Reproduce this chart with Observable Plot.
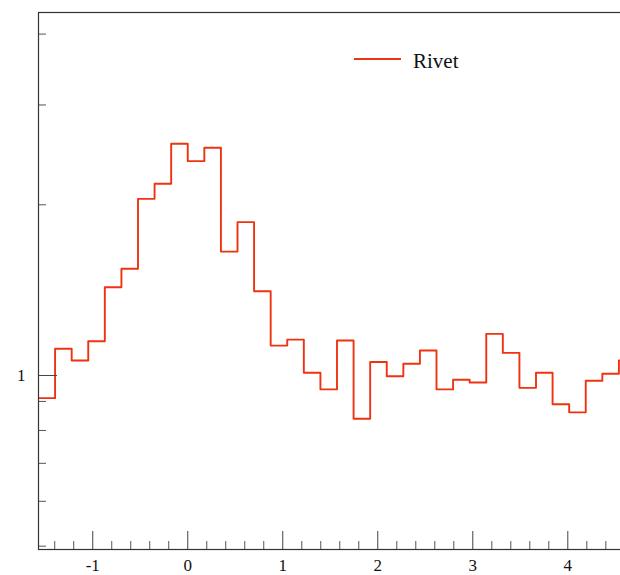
<!DOCTYPE html>
<html>
<head>
<meta charset="utf-8">
<script src="https://cdn.jsdelivr.net/npm/d3@7"></script>
<script src="https://cdn.jsdelivr.net/npm/@observablehq/plot@0.6"></script>
<style>
  html, body { margin: 0; padding: 0; background: #fff; overflow: hidden; }
  #wrap { position: relative; width: 620px; height: 575px; overflow: hidden; }
  #chart { width: 660px; }
  #chart svg { max-width: none !important; width: 660px; height: 575px; display: block; }
  #legend-line { position: absolute; left: 354px; top: 58px; width: 47px; height: 0; border-top: 2px solid #EE3311; }
  #legend-text { position: absolute; left: 413px; top: 49px; font-family: "Liberation Serif", "DejaVu Serif", serif; font-size: 21px; line-height: normal; color: #111; white-space: nowrap; }
</style>
</head>
<body>
<div id="wrap">
  <div id="chart"></div>
  <div id="legend-line"></div>
  <div id="legend-text">Rivet</div>
</div>
<script>
// Bin edges (phi from -pi/2 to 3pi/2, 36 bins)
const binEdges = [-1.5708, -1.3963, -1.2217, -1.0472, -0.8727, -0.6981, -0.5236, -0.3491, -0.1745, 0.0000,
  0.1745, 0.3491, 0.5236, 0.6981, 0.8727, 1.0472, 1.2217, 1.3963, 1.5708, 1.7453,
  1.9199, 2.0944, 2.2689, 2.4435, 2.6180, 2.7925, 2.9671, 3.1416, 3.3161, 3.4907,
  3.6652, 3.8397, 4.0143, 4.1888, 4.3633, 4.5379, 4.7124];
// Bin contents
const rivetValues = [0.912, 1.115, 1.063, 1.149, 1.431, 1.543, 2.049, 2.178, 2.563, 2.388,
  2.521, 1.654, 1.864, 1.408, 1.129, 1.157, 1.011, 0.945, 1.153, 0.839,
  1.056, 0.997, 1.049, 1.107, 0.945, 0.983, 0.972, 1.184, 1.096, 0.951,
  1.011, 0.890, 0.861, 0.979, 1.007, 1.063];
const xMajorTicks = [-1, 0, 1, 2, 3, 4];
const xMinorTicks = [-1.4, -1.2, -0.8, -0.6, -0.4, -0.2, 0.2, 0.4, 0.6, 0.8, 1.2, 1.4, 1.6, 1.8,
  2.2, 2.4, 2.6, 2.8, 3.2, 3.4, 3.6, 3.8, 4.2, 4.4, 4.6];
const yMajorTicks = [1];
const yMinorTicks = [0.5, 0.6, 0.7, 0.8, 0.9, 2, 3, 4];
const xDomain = [-Math.PI / 2, 3 * Math.PI / 2];
const yDomain = [0.4933, 4.367];

const steps = binEdges.map((e, i) => ({x: e, y: rivetValues[Math.min(i, rivetValues.length - 1)]}));

const W = 660, H = 575;
const mT = 12, mB = 26, mL = 38, mR = 25;
const innerH = H - mT - mB, innerW = W - mL - mR;
const font = '"Liberation Serif", "DejaVu Serif", serif';

const chart = Plot.plot({
  width: W,
  height: H,
  marginTop: mT,
  marginBottom: mB,
  marginLeft: mL,
  marginRight: mR,
  style: {fontFamily: font, fontSize: "17px", color: "#111", background: "#fff", maxWidth: "none"},
  x: {domain: xDomain},
  y: {type: "log", domain: yDomain},
  marks: [
    Plot.line(steps, {x: "x", y: "y", curve: "step-after", stroke: "#EE3311", strokeWidth: 1.9, clip: true}),
    Plot.ruleX(xMajorTicks, {x: d => d, insetTop: innerH - 18, stroke: "#444", strokeWidth: 1}),
    Plot.ruleX(xMinorTicks, {x: d => d, insetTop: innerH - 8, stroke: "#555", strokeWidth: 1}),
    Plot.ruleY(yMajorTicks, {y: d => d, insetRight: innerW - 19, stroke: "#444", strokeWidth: 1}),
    Plot.ruleY(yMinorTicks, {y: d => d, insetRight: innerW - 8, stroke: "#555", strokeWidth: 1}),
    Plot.axisX(xMajorTicks, {tickSize: 0, tickPadding: 9, tickFormat: d => String(d), label: null, fontSize: 17}),
    Plot.axisY(yMajorTicks, {tickSize: 0, tickPadding: 13, tickFormat: d => String(d), label: null, fontSize: 17}),
    Plot.frame({stroke: "#333", strokeWidth: 1.2})
  ]
});
document.getElementById("chart").appendChild(chart);
</script>
</body>
</html>
